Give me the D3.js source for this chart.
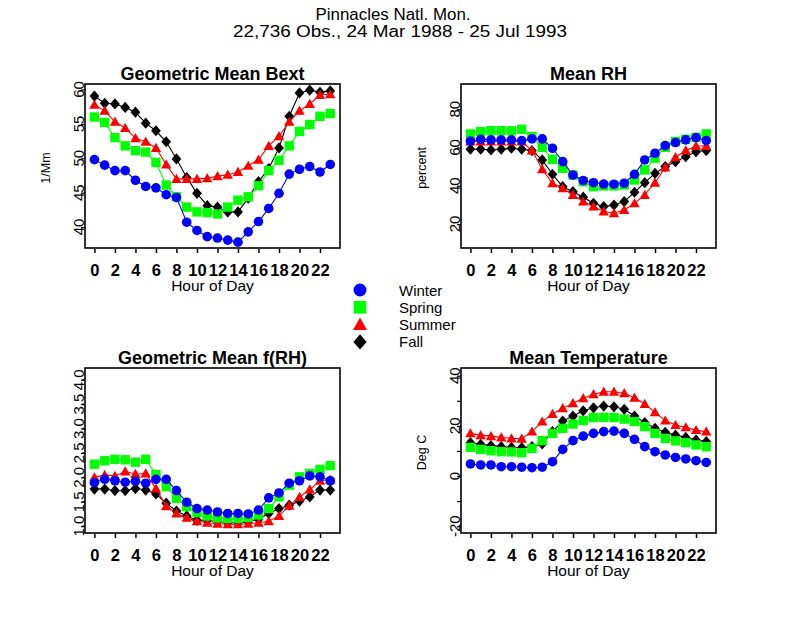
<!DOCTYPE html>
<html><head><meta charset="utf-8">
<script src="https://cdn.jsdelivr.net/npm/d3@7"></script>
<style>
body{margin:0;background:#fff}
svg{display:block}
text{font-family:"Liberation Sans",Arial,Helvetica,sans-serif;fill:#000}
</style>
</head><body>
<svg id="chart" width="800" height="617"></svg>
<script>
// ---------------- data ----------------
const hours = [0,1,2,3,4,5,6,7,8,9,10,11,12,13,14,15,16,17,18,19,20,21,22,23];
const hourTicks = [0,2,4,6,8,10,12,14,16,18,20,22];
const seasons = ["Winter","Spring","Summer","Fall"];

const bextWinter = [49.8,49.0,48.2,48.2,46.8,45.9,45.7,44.7,44.3,40.7,39.5,38.6,38.4,38.1,37.8,39.3,40.8,42.7,44.9,47.7,48.4,48.8,48.0,49.1];
const bextSpring = [56.0,55.2,53.0,51.8,51.1,50.9,49.4,46.1,44.4,42.9,42.2,42.1,41.9,42.9,43.9,44.4,46.0,48.2,49.7,51.8,53.9,54.9,56.1,56.5];
const bextSummer = [57.8,56.9,55.3,54.4,52.9,52.4,51.5,49.1,47.0,47.0,47.0,47.1,47.4,47.6,48.0,48.9,49.8,51.8,53.2,55.3,56.9,57.9,59.2,59.3];
const bextFall   = [59.05,58.0,57.9,57.4,56.7,55.1,54.0,52.4,49.9,47.2,44.9,43.1,42.9,42.2,42.2,44.2,46.6,48.5,51.5,56.1,59.5,59.9,59.6,59.8];

const rhWinter = [63.4,64.3,64.0,64.0,64.0,63.6,64.5,64.5,59.6,52.6,45.6,42.7,41.6,40.9,40.8,41.3,46.0,53.5,57.0,61.0,62.6,64.0,65.2,63.6];
const rhSpring = [67.1,68.3,68.8,68.8,68.7,69.5,65.7,60.1,53.8,49.1,45.6,42.1,39.5,39.9,39.9,40.4,43.0,48.3,54.4,60.1,63.1,64.3,65.3,67.1];
const rhSummer = [63.1,63.1,63.1,63.1,63.1,63.1,58.4,48.6,41.3,38.7,35.2,31.7,29.1,26.5,25.6,27.3,30.8,35.2,41.6,49.6,54.9,58.4,60.8,60.8];
const rhFall   = [59.1,59.1,58.7,59.1,59.6,59.1,58.4,53.5,46.0,39.5,36.9,34.0,30.8,29.1,29.9,31.7,36.6,41.6,46.5,50.0,52.6,55.2,57.8,58.4];

const frhWinter = [1.89,1.96,1.93,1.90,1.92,1.88,1.96,1.96,1.73,1.49,1.36,1.33,1.29,1.26,1.26,1.25,1.33,1.58,1.68,1.88,1.93,2.03,2.01,1.93];
const frhSpring = [2.27,2.34,2.37,2.36,2.31,2.37,2.06,1.81,1.57,1.40,1.28,1.21,1.17,1.16,1.16,1.18,1.23,1.36,1.60,1.84,2.01,2.08,2.16,2.24];
const frhSummer = [2.00,2.05,2.03,2.12,2.07,2.08,1.77,1.41,1.26,1.17,1.10,1.07,1.05,1.04,1.04,1.05,1.07,1.10,1.21,1.42,1.60,1.75,1.93,1.95];
const frhFall   = [1.76,1.76,1.73,1.73,1.77,1.74,1.66,1.47,1.31,1.21,1.12,1.12,1.09,1.07,1.07,1.09,1.14,1.26,1.36,1.43,1.51,1.60,1.74,1.74];

const tempWinter = [4.8,4.4,4.4,3.7,3.7,3.5,3.3,3.5,5.7,10.6,14.1,15.9,17.0,17.7,17.9,17.0,14.6,11.7,9.7,8.4,7.4,6.8,6.1,5.4];
const tempSpring = [11.4,10.6,10.1,9.7,9.6,9.3,11.0,14.1,17.0,19.0,20.7,22.1,23.3,23.4,23.3,22.7,21.7,19.7,17.0,15.0,14.0,13.3,12.4,11.7];
const tempSummer = [17.0,16.3,15.9,15.4,15.0,14.9,17.7,21.7,24.7,27.0,29.0,31.0,32.6,33.6,33.6,33.0,31.2,28.7,25.4,22.1,20.3,19.4,18.3,17.7];
const tempFall   = [13.3,12.6,12.1,11.7,11.4,11.3,11.7,12.8,17.7,21.9,23.9,26.0,27.2,27.9,27.6,26.6,23.9,21.3,19.0,17.4,16.3,15.4,14.4,13.7];

const bextTicks = [40,45,50,55,60];
const rhTicks = [20,40,60,80];
const frhTicks = [1.0,1.5,2.0,2.5,3.0,3.5,4.0];
const tempTicks = [-20,-10,0,10,20,30,40];
const tempTickLabels = [-20,0,20,40];

const mainTitle1 = "Pinnacles Natl. Mon.";
const mainTitle2 = "22,736 Obs., 24 Mar 1988 - 25 Jul 1993";

// ---------------- styling ----------------
const colors = {Winter:"#0000ff", Spring:"#00ff00", Summer:"#ff0000", Fall:"#000000"};
const drawOrder = ["Fall","Summer","Spring","Winter"];

function markerPath(season, s){
  if(season==="Winter"){ const r=4.8*s; return `M${-r},0A${r},${r} 0 1,0 ${r},0A${r},${r} 0 1,0 ${-r},0Z`; }
  if(season==="Spring"){ const h=4.7*s; return `M${-h},${-h}H${h}V${h}H${-h}Z`; }
  if(season==="Summer"){ const w=5.2*s, t=5.2*s, b=4.0*s; return `M0,${-t}L${w},${b}L${-w},${b}Z`; }
  const w=4.9*s, hh=5.6*s; return `M0,${-hh}L${w},0L0,${hh}L${-w},0Z`;
}

const svg = d3.select("#chart");

svg.append("text").attr("x",393).attr("y",20).attr("text-anchor","middle")
  .attr("font-size",16).attr("textLength",155).attr("lengthAdjust","spacingAndGlyphs").text(mainTitle1);
svg.append("text").attr("x",400).attr("y",37).attr("text-anchor","middle")
  .attr("font-size",16).attr("textLength",334).attr("lengthAdjust","spacingAndGlyphs").text(mainTitle2);

const panels = [
  {title:"Geometric Mean Bext", ylab:"1/Mm", box:[85,340,84,248], ydom:[36.95,60.8], ticks:bextTicks, labels:bextTicks, fmt:d=>d,
   data:{Winter:bextWinter,Spring:bextSpring,Summer:bextSummer,Fall:bextFall}},
  {title:"Mean RH", ylab:"percent", box:[461,716,84,248], ydom:[7.45,93.2], ticks:rhTicks, labels:rhTicks, fmt:d=>d,
   data:{Winter:rhWinter,Spring:rhSpring,Summer:rhSummer,Fall:rhFall}},
  {title:"Geometric Mean f(RH)", ylab:"", box:[85,340,368,533], ydom:[0.86,4.24], ticks:frhTicks, labels:frhTicks, fmt:d=>d.toFixed(1),
   data:{Winter:frhWinter,Spring:frhSpring,Summer:frhSummer,Fall:frhFall}},
  {title:"Mean Temperature", ylab:"Deg C", box:[461,716,368,533], ydom:[-22.73,43.07], ticks:tempTicks, labels:tempTickLabels, fmt:d=>d,
   data:{Winter:tempWinter,Spring:tempSpring,Summer:tempSummer,Fall:tempFall}}
];

panels.forEach(p=>{
  const [L,R,T,B] = p.box;
  const x = d3.scaleLinear().domain([-0.92,23.95]).range([L,R]);
  const y = d3.scaleLinear().domain(p.ydom).range([B,T]);
  const g = svg.append("g");

  drawOrder.forEach(s=>{
    const vals = p.data[s];
    const line = d3.line().x((d,i)=>x(hours[i])).y(d=>y(d));
    g.append("path").attr("d",line(vals)).attr("fill","none").attr("stroke",colors[s]).attr("stroke-width",1.1);
    g.selectAll(null).data(vals).enter().append("path")
      .attr("transform",(d,i)=>`translate(${x(hours[i])},${y(d)})`)
      .attr("d",markerPath(s,1)).attr("fill",colors[s]);
  });

  g.append("rect").attr("x",L).attr("y",T).attr("width",R-L).attr("height",B-T)
    .attr("fill","none").attr("stroke","#000").attr("stroke-width",1.6);

  const xa = d3.axisBottom(x).tickValues(hourTicks).tickSize(4).tickPadding(11).tickFormat(d=>d);
  const xg = g.append("g").attr("transform",`translate(0,${B+1})`).call(xa);
  xg.select(".domain").remove();
  xg.selectAll(".tick line").attr("stroke","#000").attr("stroke-width",1.5);
  xg.selectAll(".tick text").attr("font-size",16.5).attr("font-weight","bold").attr("fill","#000")
    .attr("font-family","\"Liberation Sans\",Arial,sans-serif");

  const ya = d3.axisLeft(y).tickValues(p.ticks).tickSize(4).tickFormat("");
  const yg = g.append("g").attr("transform",`translate(${L},0)`).call(ya);
  yg.select(".domain").remove();
  yg.selectAll(".tick line").attr("stroke","#000").attr("stroke-width",1.2);
  g.selectAll(null).data(p.labels).enter().append("text")
    .attr("transform",d=>`translate(${L-1},${y(d)}) rotate(-90)`)
    .attr("text-anchor","middle").attr("font-size",15).text(p.fmt);

  g.append("text").attr("x",(L+R)/2).attr("y",T-4).attr("text-anchor","middle")
    .attr("font-size",18).attr("font-weight","bold").text(p.title);
  g.append("text").attr("x",(L+R)/2).attr("y",B+43).attr("text-anchor","middle")
    .attr("font-size",15.5).text("Hour of Day");
  if(p.ylab){
    g.append("text").attr("transform",`translate(${L-35},${(T+B)/2+2}) rotate(-90)`)
      .attr("text-anchor","middle").attr("font-size",12.5).text(p.ylab);
  }
});

const lg = svg.append("g");
seasons.forEach((s,i)=>{
  const cy = 290 + i*17.3;
  lg.append("path").attr("transform",`translate(360,${cy})`).attr("d",markerPath(s,1.35)).attr("fill",colors[s]);
  lg.append("text").attr("x",399).attr("y",cy+5.5).attr("font-size",15).text(s);
});
</script>
</body></html>
